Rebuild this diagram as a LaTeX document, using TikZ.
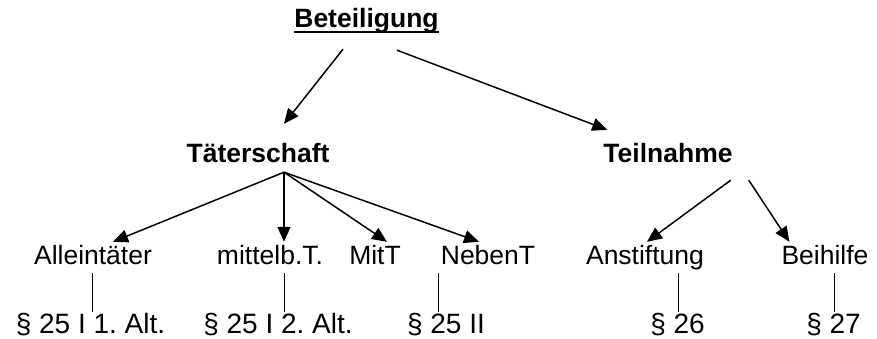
\documentclass[tikz,border=0pt]{standalone}
\usepackage{fontspec}
\setmainfont{Liberation Sans}
\usetikzlibrary{arrows.meta}
\frenchspacing

\begin{document}
\begin{tikzpicture}[x=1pt,y=-1pt,
    lvl/.style={anchor=base,inner xsep=0pt,inner ysep=3pt,text height=19pt,text depth=6pt,font=\fontsize{26.5}{30}\selectfont},
    head/.style={lvl,font=\fontsize{26.5}{30}\selectfont\bfseries},
    para/.style={anchor=base,inner xsep=0pt,inner ysep=1pt,text height=20pt,text depth=4pt,font=\fontsize{28}{32}\selectfont},
    arr/.style={line width=1.5pt,-{Triangle[length=15pt,width=13pt]}},
    stem/.style={line width=1pt}]
    \useasboundingbox (0,0) rectangle (877,339);
    \node[head] (bet) at (366.5,28) {Beteiligung};
    \draw[line width=2pt] ([yshift=-4]bet.base west) -- ([yshift=-4]bet.base east);
    \node[head] (taet) at (258,163) {Täterschaft};
    \node[head] (teil) at (668,163) {Teilnahme};
    \node[lvl] (allein) at (93,264) {Alleintäter};
    \node[lvl] (mittelb) at (270,264) {mittelb.T.};
    \node[lvl] (mitt) at (375,264) {MitT};
    \node[lvl] (nebent) at (488,264) {NebenT};
    \node[lvl] (anst) at (645,264) {Anstiftung};
    \node[lvl] (beih) at (825,264) {Beihilfe};
    \node[para] (p1) at (90.5,333) {§ 25 I 1. Alt.};
    \node[para] (p2) at (278,333) {§ 25 I 2. Alt.};
    \node[para] (p3) at (446,333) {§ 25 II};
    \node[para] (p4) at (677.5,333) {§ 26};
    \node[para] (p5) at (833.5,333) {§ 27};
    \draw[arr] ([xshift=-23.5,yshift=-12]bet.south) -- ([xshift=26,yshift=17]taet.north);
    \draw[arr] ([xshift=30.5,yshift=-13]bet.south) -- ([xshift=4,yshift=11]teil.north west);
    \foreach \n/\dx in {allein/20,mittelb/14,mitt/12,nebent/-9}
        \draw[arr] ([xshift=26]taet.south) -- ([xshift=\dx]\n.north);
    \draw[arr] ([xshift=-2,yshift=-8]teil.south east) -- ([xshift=2]anst.north);
    \draw[arr] ([xshift=16,yshift=-8]teil.south east) -- ([xshift=8]beih.north west);
    \draw[stem] ([xshift=1.5]p1.north) -- ([xshift=1.5]p1.north |- allein.south);
    \draw[stem] ([xshift=6]p2.north) -- ([xshift=6]p2.north |- mittelb.south);
    \draw[stem] ([xshift=-8]p3.north) -- ([xshift=-8]p3.north |- nebent.south);
    \draw[stem] ([xshift=0.5]p4.north) -- ([xshift=0.5]p4.north |- anst.south);
    \draw[stem] ([xshift=0.5]p5.north) -- ([xshift=0.5]p5.north |- beih.south);
\end{tikzpicture}
\end{document}
